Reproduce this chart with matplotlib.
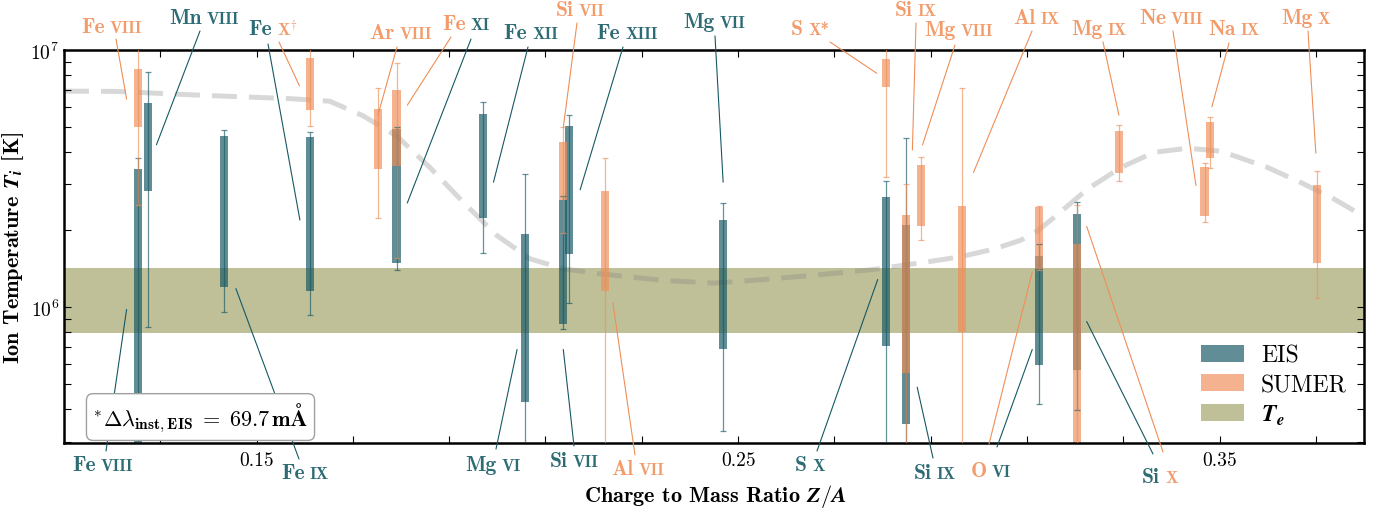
import numpy as np
import matplotlib
matplotlib.use('Agg')
import matplotlib.pyplot as plt
from matplotlib.patches import Patch
from matplotlib.ticker import FixedLocator, FixedFormatter, NullFormatter

plt.rcParams['font.family'] = 'serif'
plt.rcParams['font.serif'] = ['cmr10']
plt.rcParams['mathtext.fontset'] = 'cm'
plt.rcParams['axes.formatter.use_mathtext'] = True

# ion temperatures in MK: thick bar = box range, thin line = error range
eis_ion = ['Fe VIII', 'Mn VIII', 'Fe IX', 'Fe X', 'Fe XI', 'Fe XII', 'Mg VI', 'Si VII',
           'Fe XIII', 'Mg VII', 'S X', 'Si IX', 'O VI', 'Si X']
eis_za = [0.12535, 0.12742, 0.14325, 0.16116, 0.17907, 0.19697, 0.20572, 0.21363,
          0.21488, 0.24686, 0.28072, 0.28484, 0.31252, 0.32045]
eis_box_lo = [0.20, 2.83, 1.20, 1.15, 1.48, 2.22, 0.428, 0.86, 1.61, 0.689, 0.704, 0.350, 0.597, 0.567]
eis_box_hi = [3.44, 6.21, 4.64, 4.59, 4.92, 5.66, 1.93, 2.61, 5.04, 2.19, 2.69, 2.09, 1.58, 2.30]
eis_err_lo = [0.20, 0.834, 0.957, 0.933, 1.39, 1.63, 0.25, 0.82, 1.04, 0.329, 0.25, 0.25, 0.419, 0.397]
eis_err_hi = [3.80, 8.22, 4.89, 4.81, 5.00, 6.30, 3.29, 2.70, 5.61, 2.54, 3.09, 4.55, 1.76, 2.57]

sumer_ion = ['Fe VIII', 'Fe X', 'Ar VIII', 'Fe XI', 'Si VII', 'Al VII', 'S X', 'Si IX',
             'Mg VIII', 'Al IX', 'O VI', 'Si X', 'Mg IX', 'Ne VIII', 'Na IX', 'Mg X']
sumer_za = [0.12535, 0.16116, 0.17523, 0.17907, 0.21363, 0.22237, 0.28072, 0.28484,
            0.28801, 0.29649, 0.31252, 0.32045, 0.32915, 0.34688, 0.34798, 0.37030]
sumer_box_lo = [5.00, 5.85, 3.44, 3.53, 2.61, 1.15, 7.18, 0.555, 2.06, 0.80, 1.41, 0.20, 3.33, 2.27, 3.79, 1.48]
sumer_box_hi = [8.47, 9.34, 5.91, 6.98, 4.37, 2.82, 9.20, 2.29, 3.57, 2.47, 2.44, 1.76, 4.85, 3.51, 5.23, 2.99]
sumer_err_lo = [2.50, 5.07, 2.23, 1.55, 1.95, 0.25, 3.21, 0.25, 1.82, 0.25, 1.40, 0.20, 3.08, 2.15, 3.48, 1.08]
sumer_err_hi = [12.0, 12.0, 7.10, 8.94, 5.02, 3.79, 12.0, 3.01, 3.82, 7.12, 2.47, 2.50, 5.11, 3.62, 5.51, 3.39]

te_range = [0.79, 1.42]

curve_za = [0.1100, 0.1210, 0.1382, 0.1569, 0.1652, 0.1721, 0.1791, 0.1860, 0.1929, 0.1999,
            0.2068, 0.2137, 0.2208, 0.2276, 0.2345, 0.2449, 0.2553, 0.2657, 0.2781, 0.2894,
            0.2962, 0.3031, 0.3087, 0.3122, 0.3156, 0.3226, 0.3295, 0.3364, 0.3434, 0.3503,
            0.3600, 0.3669, 0.3738, 0.3802]
curve_t = [6.92, 6.90, 6.67, 6.47, 6.32, 5.55, 4.63, 3.49, 2.56, 1.90,
           1.54, 1.41, 1.35, 1.31, 1.27, 1.24, 1.28, 1.33, 1.40, 1.50,
           1.57, 1.68, 1.82, 1.98, 2.23, 2.88, 3.49, 4.00, 4.15, 4.04,
           3.49, 3.05, 2.63, 2.24]

xticks = [0.11, 0.13, 0.15, 0.17, 0.19, 0.21, 0.23, 0.25, 0.27, 0.29, 0.31, 0.33, 0.35, 0.37]
xticklabels = ['', '', '0.15', '', '', '', '', '0.25', '', '', '', '', '0.35', '']

EIS = '#165864'
SUM = '#ef8e58'
EIS_TXT = '#2d6b75'
SUM_TXT = '#f29c6c'
TE = '#bfc098'

W, H = 1385, 510
fig = plt.figure(figsize=(W/100., H/100.), dpi=100)
ax = fig.add_axes([64./W, 1-444./H, 1300./W, 393./H])

def fpos(px, py):
    return px/float(W), 1-py/float(H)

MK = 1e6
ax.axhspan(te_range[0]*MK, te_range[1]*MK, color=TE, lw=0, zorder=0)
ax.plot(curve_za, np.array(curve_t)*MK, color='#808080', alpha=0.3, lw=3.6,
        dashes=(5, 2.4), zorder=1)

def draw_set(za, blo, bhi, elo, ehi, col):
    za = np.array(za)
    blo, bhi = np.array(blo)*MK, np.array(bhi)*MK
    elo, ehi = np.array(elo)*MK, np.array(ehi)*MK
    ax.bar(za, bhi-blo, bottom=blo, width=0.0017, color=col, alpha=0.68, lw=0, zorder=2)
    ax.errorbar(za, elo, yerr=[np.zeros(len(za)), ehi-elo], fmt='none', ecolor=col,
                elinewidth=0.9, capsize=2, capthick=0.9, alpha=0.65, zorder=3)

draw_set(eis_za, eis_box_lo, eis_box_hi, eis_err_lo, eis_err_hi, EIS)
draw_set(sumer_za, sumer_box_lo, sumer_box_hi, sumer_err_lo, sumer_err_hi, SUM)

ax.set_yscale('log')
ax.set_xlim(0.11, 0.38)
ax.set_ylim(0.296*MK, 1.0e7)
ax.xaxis.set_major_locator(FixedLocator(xticks))
ax.xaxis.set_major_formatter(FixedFormatter(xticklabels))
ax.yaxis.set_minor_formatter(NullFormatter())
ax.tick_params(which='both', direction='in', top=True, right=True, length=5, width=0.8,
               labelsize=14)
ax.tick_params(axis='x', pad=6)
for s in ax.spines.values():
    s.set_linewidth(1.8)

ax.set_xlabel(r'Charge to Mass Ratio $\mathbfit{Z}/\mathbfit{A}$', fontsize=16, family='cmb10')
ax.set_ylabel(r'Ion Temperature $\mathbfit{T}_{\mathbfit{i}}$ [K]', fontsize=16, family='cmb10')
ax.xaxis.set_label_coords(0.5008, -0.100)
ax.yaxis.set_label_coords(-0.029, 0.5)

ax.text(0.105, 0.066,
        r'$^{*}\mathbf{\Delta}\lambda_{\mathbf{inst,EIS}}\mathbf{\;=\;69.7\,m}\mathbf{Å}$',
        transform=ax.transAxes, ha='center', va='center', fontsize=16, zorder=6,
        bbox=dict(boxstyle='round,pad=0.3', fc='white', ec='#a0a0a0', lw=1))

handles = [Patch(color=EIS, alpha=0.68, lw=0), Patch(color=SUM, alpha=0.68, lw=0),
           Patch(color=TE, lw=0)]
ax.legend(handles, ['EIS', 'SUMER', r'$\mathbfit{T}_{\mathbfit{e}}$'], loc='upper left',
          bbox_to_anchor=(0.8746, 0.250), frameon=False, fontsize=17, borderpad=0,
          borderaxespad=0, handlelength=1.82, handleheight=0.72, handletextpad=0.72,
          labelspacing=0.3)

# ion labels: element, stage, colours, centre x and baseline y (pixels)
ion_labels = [
    ('Fe', 'VIII', SUM_TXT, SUM_TXT, 112, 33),
    ('Mn', 'VIII', EIS_TXT, EIS_TXT, 204, 24),
    ('Fe', r'X$^{\dagger}$', EIS_TXT, SUM_TXT, 273, 35),
    ('Ar', 'VIII', SUM_TXT, SUM_TXT, 401, 39),
    ('Fe', 'XI', SUM_TXT, EIS_TXT, 466, 30),
    ('Fe', 'XII', EIS_TXT, EIS_TXT, 531, 39),
    ('Si', 'VII', SUM_TXT, SUM_TXT, 580, 16),
    ('Fe', 'XIII', EIS_TXT, EIS_TXT, 627, 39),
    ('Mg', 'VII', EIS_TXT, EIS_TXT, 714, 28),
    ('S', 'X*', SUM_TXT, SUM_TXT, 810, 35),
    ('Si', 'IX', SUM_TXT, SUM_TXT, 916, 16),
    ('Mg', 'VIII', SUM_TXT, SUM_TXT, 959, 36),
    ('Al', 'IX', SUM_TXT, SUM_TXT, 1037, 24),
    ('Mg', 'IX', SUM_TXT, SUM_TXT, 1099, 35),
    ('Ne', 'VIII', SUM_TXT, SUM_TXT, 1171, 24),
    ('Na', 'IX', SUM_TXT, SUM_TXT, 1234, 35),
    ('Mg', 'X', SUM_TXT, SUM_TXT, 1306, 24),
    ('Fe', 'VIII', EIS_TXT, EIS_TXT, 103, 471),
    ('Fe', 'IX', EIS_TXT, EIS_TXT, 305, 479),
    ('Mg', 'VI', EIS_TXT, EIS_TXT, 493, 471),
    ('Si', 'VII', EIS_TXT, EIS_TXT, 574, 467),
    ('Al', 'VII', SUM_TXT, SUM_TXT, 638, 475),
    ('S', 'X', EIS_TXT, EIS_TXT, 810, 471),
    ('Si', 'IX', EIS_TXT, EIS_TXT, 935, 479),
    ('O', 'VI', SUM_TXT, EIS_TXT, 991, 477),
    ('Si', 'X', EIS_TXT, SUM_TXT, 1160, 483),
]

# leader lines: colour, start (pixels), end (Z/A, MK)
leaders = [
    (SUM, 116, 40, 0.1230, 6.44), (EIS, 200, 32, 0.1292, 4.28),
    (EIS, 268, 45, 0.1590, 2.18), (SUM, 279, 43, 0.1589, 7.25),
    (SUM, 397, 48, 0.1752, 5.58), (SUM, 451, 38, 0.1813, 6.10),
    (EIS, 471, 40, 0.1813, 2.54), (EIS, 528, 48, 0.1992, 3.06),
    (SUM, 577, 24, 0.2137, 5.00), (EIS, 623, 48, 0.2172, 2.86),
    (EIS, 715, 37, 0.2469, 3.06), (SUM, 830, 43, 0.2788, 8.12),
    (SUM, 916, 24, 0.2862, 4.08), (SUM, 955, 46, 0.2883, 4.27),
    (SUM, 1032, 32, 0.2989, 3.34), (SUM, 1103, 43, 0.3291, 5.58),
    (SUM, 1173, 32, 0.3451, 2.97), (SUM, 1229, 44, 0.3484, 6.01),
    (SUM, 1308, 32, 0.3700, 3.97),
    (EIS, 106, 452, 0.1230, 0.979), (EIS, 299, 460, 0.1457, 1.18),
    (EIS, 496, 450, 0.2041, 0.684), (EIS, 574, 447, 0.2137, 0.684),
    (SUM, 635, 456, 0.2240, 1.04), (EIS, 817, 452, 0.2790, 1.28),
    (EIS, 933, 459, 0.2872, 0.488), (SUM, 989, 445, 0.3111, 1.37),
    (EIS, 997, 448, 0.3111, 0.684), (EIS, 1153, 455, 0.3224, 0.879),
    (SUM, 1163, 453, 0.3224, 2.06),
]

for col, px, py, za, t in leaders:
    ax.annotate('', xy=(za, t*MK), xycoords='data', xytext=fpos(px, py),
                textcoords='figure fraction', annotation_clip=False,
                arrowprops=dict(arrowstyle='-', color=col, lw=0.8, shrinkA=0, shrinkB=0))

renderer = fig.canvas.get_renderer()
for el, stage, c1, c2, cx, by in ion_labels:
    t1 = fig.text(0, 0, el, fontsize=15.5, color=c1, family='cmb10', va='baseline')
    t2 = fig.text(0, 0, stage, fontsize=12, color=c2, family='cmb10', va='baseline')
    w1 = t1.get_window_extent(renderer).width
    w2 = t2.get_window_extent(renderer).width
    gap = 5
    x0 = cx - (w1 + gap + w2)/2.
    t1.set_position(fpos(x0, by))
    t2.set_position(fpos(x0 + w1 + gap, by))

fig.savefig('out.png', dpi=100, facecolor='w')
